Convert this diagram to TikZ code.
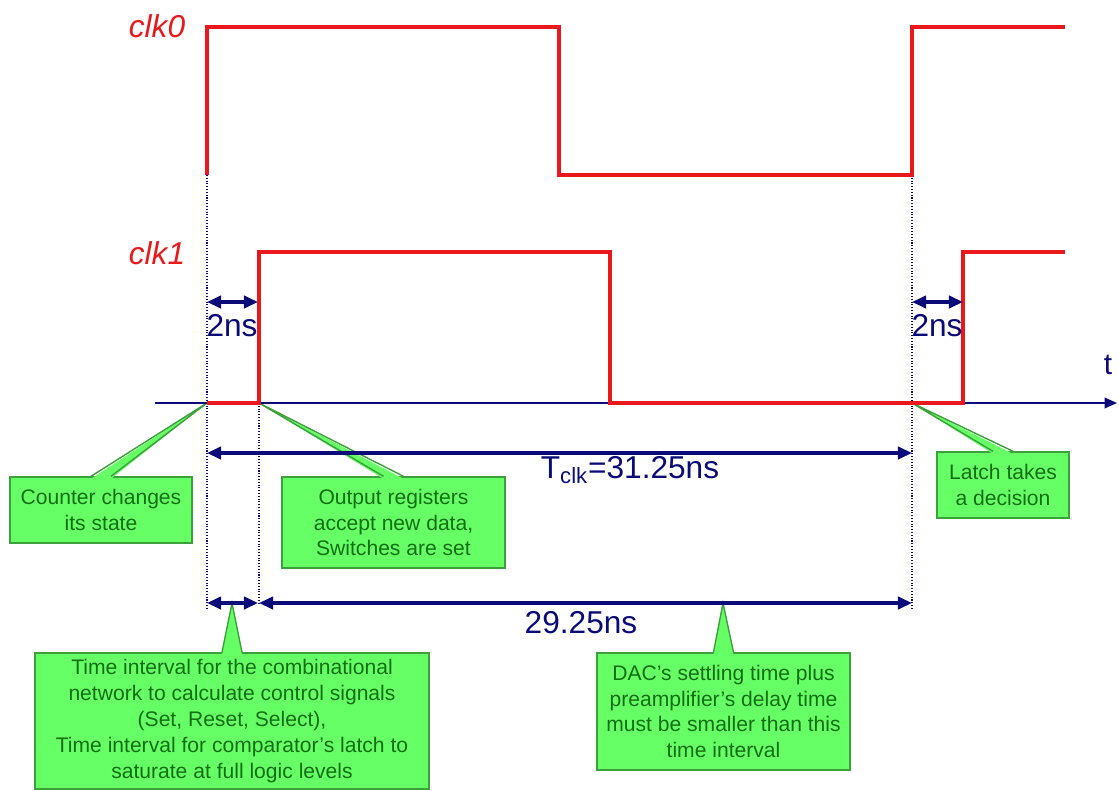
\documentclass[tikz,border=0pt]{standalone}
\usepackage{fontspec}
\setmainfont{Liberation Sans}
\usetikzlibrary{arrows.meta,calc}
\definecolor{sigred}{RGB}{232,24,28}
\definecolor{navy}{RGB}{10,10,120}
\definecolor{cofill}{RGB}{102,255,102}
\definecolor{coline}{RGB}{60,160,60}
\definecolor{cotext}{RGB}{20,110,20}
\newcommand\mycallout[2]{%
  \fill[cofill] (#2) -- ([xshift=-0.2cm,yshift=-0.05cm]#1.north) -- ([xshift=0.2cm,yshift=-0.05cm]#1.north) -- cycle;
  \draw[coline,line width=0.8pt,line join=miter] ([xshift=-0.2cm]#1.north) -- (#2) -- ([xshift=0.2cm]#1.north);}
\begin{document}
\begin{tikzpicture}[x=0.02cm,y=-0.02cm,
  sig/.style={draw=sigred,line width=2pt,line join=miter},
  guide/.style={draw=navy,densely dotted,line width=0.6pt},
  dim/.style={draw=navy,line width=1.8pt,{Triangle[length=8pt,width=7pt]}-{Triangle[length=8pt,width=7pt]}},
  taxis/.style={draw=navy,line width=1pt,-{Triangle[length=7pt,width=6pt]}},
  cobox/.style={draw=coline,fill=cofill,line width=0.8pt,text=cotext,font=\fontsize{12}{14.7}\selectfont,align=center,inner sep=0pt},
  siglabel/.style={text=sigred,font=\fontsize{18}{20}\selectfont\itshape,inner sep=0pt},
  dimlabel/.style={text=navy,font=\fontsize{18}{20}\selectfont,inner sep=0pt}]
\useasboundingbox (0,0) rectangle (1119,791);

% callout boxes
\node[cobox,minimum width=3.64cm,minimum height=1.32cm] (b1) at (101,510) {Counter changes\\its state};
\node[cobox,minimum width=4.46cm,minimum height=1.82cm] (b2) at (393.5,522.5) {Output registers\\accept new data,\\Switches are set};
\node[cobox,minimum width=2.64cm,minimum height=1.32cm] (b3) at (1003,485) {Latch takes\\a decision};
\node[cobox,minimum width=7.88cm,minimum height=2.72cm] (b4) at (232,721) {Time interval for the combinational\\network to calculate control signals\\(Set, Reset, Select),\\Time interval for comparator’s latch to\\saturate at full logic levels};
\node[cobox,minimum width=5.06cm,minimum height=2.34cm] (b5) at (723.5,711.5) {DAC’s settling time plus\\preamplifier’s delay time\\must be smaller than this\\time interval};

% key coordinates
\coordinate (e0) at (207,403);
\coordinate (e1) at (259,403);
\coordinate (e2) at (912,403);
\coordinate (p4) at (232,603);
\coordinate (p5) at (723,603);

\mycallout{b1}{e0}
\mycallout{b2}{e1}
\mycallout{b3}{e2}
\mycallout{b4}{p4}
\mycallout{b5}{p5}

% guides
\coordinate (g0a) at (207,175); \coordinate (g0b) at (207,610);
\coordinate (g1a) at (259,403); \coordinate (g1b) at (259,605);
\coordinate (g2a) at (912,175); \coordinate (g2b) at (912,610);
\draw[guide] (g0a) -- (g0b);
\draw[guide] (g1a) -- (g1b);
\draw[guide] (g2a) -- (g2b);

% time axis
\coordinate (ax0) at (155,403);
\coordinate (ax1) at (1117,403);
\draw[taxis] (ax0) -- (ax1);
\node[text=navy,font=\fontsize{17}{20}\selectfont,inner sep=0pt] (tl) at (1108,365) {t};

% signals
\draw[sig] (207,175) -- (207,27) -- (559,27) -- (559,175) -- (912,175) -- (912,27) -- (1065,27);
\draw[sig] (207,403) -- (259,403) -- (259,252) -- (610,252) -- (610,403) -- (963,403) -- (963,252) -- (1065,252);
\node[siglabel] (c0) at (157,26) {clk0};
\node[siglabel] (c1) at (157,253) {clk1};

% dimensions
\coordinate (d1a) at (207,302); \coordinate (d1b) at (258,302);
\coordinate (d2a) at (912,302); \coordinate (d2b) at (963,302);
\draw[dim] (d1a) -- (d1b);
\draw[dim] (d2a) -- (d2b);
\node[dimlabel] (n1) at (232,326) {2ns};
\node[dimlabel] (n2) at (937,326) {2ns};

\coordinate (t0) at (207,453); \coordinate (t1) at (912,453);
\draw[dim] (t0) -- (t1);
\node[dimlabel] (tc) at (630,470) {T\textsubscript{clk}=31.25ns};

\coordinate (s0) at (207,603); \coordinate (s1) at (258,603);
\coordinate (s2) at (259,603); \coordinate (s3) at (912,603);
\draw[dim] (s0) -- (s1);
\draw[dim] (s2) -- (s3);
\node[dimlabel] (sl) at (581,623) {29.25ns};
\end{tikzpicture}
\end{document}
